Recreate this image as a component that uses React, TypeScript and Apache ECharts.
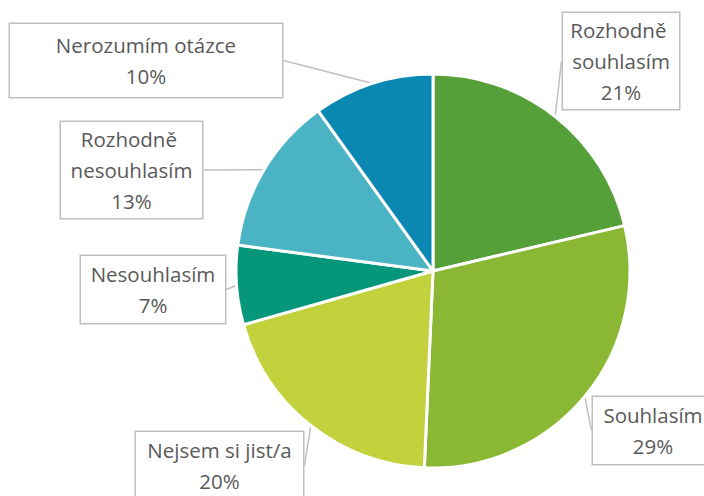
import React, { useEffect, useRef } from "react";
import * as echarts from "echarts";

const categories = [
  "Rozhodně souhlasím",
  "Souhlasím",
  "Nejsem si jist/a",
  "Nesouhlasím",
  "Rozhodně nesouhlasím",
  "Nerozumím otázce",
];
const values = [21.3, 29.4, 19.9, 6.5, 13.0, 9.9];
const colors = ["#56A03A", "#8BB834", "#C2D13C", "#06967A", "#4BB4C4", "#0B88B1"];

// label box layout: center x, center y, box width, vertical padding
const labelBoxes = [
  { cx: 621, cy: 61, w: 116, pv: 1.5 },
  { cx: 653, cy: 430.5, w: 120, pv: 2.5 },
  { cx: 219.5, cy: 465.5, w: 167, pv: 2.5 },
  { cx: 153, cy: 289.5, w: 144, pv: 2.5 },
  { cx: 131.5, cy: 170, w: 141, pv: 1.5 },
  { cx: 146, cy: 60.5, w: 272, pv: 5.5 },
];

export default function App() {
  const ref = useRef<HTMLDivElement>(null);
  useEffect(() => {
    if (!ref.current) return;
    const chart = echarts.init(ref.current, undefined, { renderer: "svg" });
    chart.setOption({
      animation: false,
      backgroundColor: "#ffffff",
      series: [
        {
          type: "pie",
          center: [433, 271],
          radius: 197,
          startAngle: 90,
          clockwise: true,
          percentPrecision: 0,
          avoidLabelOverlap: false,
          itemStyle: { borderColor: "#ffffff", borderWidth: 3 },
          emphasis: { disabled: true },
          labelLine: {
            show: true,
            length: 0,
            length2: 0,
            lineStyle: { color: "#BFBFBF", width: 1.5 },
          },
          labelLayout: (p: any) => {
            const b = labelBoxes[p.dataIndex];
            return { x: b.cx, y: b.cy, align: "center", verticalAlign: "middle", hideOverlap: false, moveOverlap: false };
          },
          data: categories.map((name, i) => ({
            name,
            value: values[i],
            itemStyle: { color: colors[i] },
            label: {
              show: true,
              position: "outside",
              formatter: "{b}\n{d}%",
              fontFamily: "Open Sans",
              fontSize: 20.5,
              lineHeight: 31,
              color: "#595959",
              align: "center",
              width: labelBoxes[i].w,
              overflow: "break",
              backgroundColor: "#ffffff",
              borderColor: "#BFBFBF",
              borderWidth: 1.5,
              padding: [labelBoxes[i].pv, 0],
            },
          })),
        },
      ],
    });
    return () => chart.dispose();
  }, []);
  return (
    <div
      ref={ref}
      style={{ position: "fixed", left: 0, top: 0, width: 704, height: 496 }}
    />
  );
}
